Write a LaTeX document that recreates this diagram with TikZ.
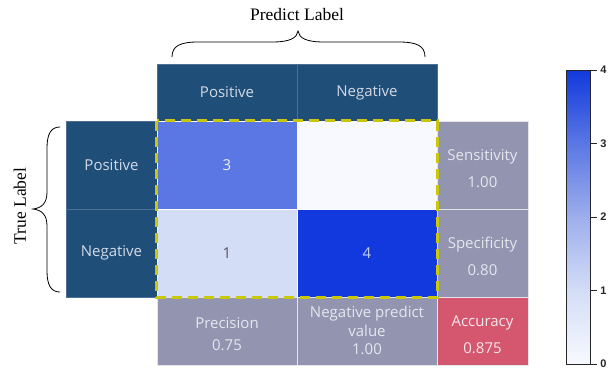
\documentclass[tikz,border=0pt]{standalone}
\usepackage{fontspec}
\setmainfont{Liberation Serif}
\setsansfont{Open Sans}
\newfontfamily\barfont{Liberation Sans}
\definecolor{hdr}{HTML}{1F4E79}
\definecolor{htext}{HTML}{D3DAE6}
\definecolor{gry}{HTML}{9394B0}
\definecolor{gtext}{HTML}{E6E6EF}
\definecolor{accc}{HTML}{D5566F}
\definecolor{atext}{HTML}{F6E8EC}
\definecolor{cz}{HTML}{F7F9FE}
\definecolor{cone}{HTML}{D4DDF6}
\definecolor{ctwo}{HTML}{9DAEEC}
\definecolor{cthree}{HTML}{5A77E4}
\definecolor{cfour}{HTML}{1239DD}
\definecolor{dashy}{HTML}{C8C80A}
\pgfdeclareverticalshading{cmapshade}{100bp}{color(0bp)=(cz); color(25bp)=(cz); color(37.5bp)=(cone); color(50bp)=(ctwo); color(62.5bp)=(cthree); color(75bp)=(cfour); color(100bp)=(cfour)}
\begin{document}
\begin{tikzpicture}[x=1pt,y=-1pt,
  cellbox/.style={rectangle, inner sep=0pt, font=\sffamily\fontsize{15}{18}\selectfont, align=center},
  hdrbox/.style={cellbox, fill=hdr, draw=hdr!80!white, line width=0.6pt, text=htext},
  matbox/.style={cellbox, draw=white, line width=0.6pt, minimum width=140pt, minimum height=88pt},
  grybox/.style={cellbox, fill=gry, draw=white!75!gry, line width=0.8pt},
  lbl/.style={inner sep=0pt, font=\sffamily\fontsize{15}{18}\selectfont, align=center},
  bracestyle/.style={draw=black, line width=0.8pt},
  bigtitle/.style={inner sep=0pt, font=\rmfamily\fontsize{17.5}{20}\selectfont},
  yellowdash/.style={draw=dashy, line width=2.6pt, dash pattern=on 10pt off 6pt}
]
\useasboundingbox (0,0) rectangle (612,373);

% column headers
\node[hdrbox, minimum width=140pt, minimum height=57pt] (hP) at (227,92.5) {Positive};
\node[hdrbox, minimum width=140pt, minimum height=57pt] (hN) at (367,92.5) {Negative};
% row headers
\node[hdrbox, minimum width=91pt, minimum height=88pt] (vP) at (111.5,165) {Positive};
\node[hdrbox, minimum width=91pt, minimum height=88pt] (vN) at (111.5,253) {Negative};

% matrix
\node[matbox, fill=cthree, text=white!88!cthree] (m11) at (227,165) {3};
\node[matbox, fill=cz] (m12) at (367,165) {};
\node[matbox, fill=cone, text=black!60!cone] (m21) at (227,253) {1};
\node[matbox, fill=cfour, text=white!75!cfour] (m22) at (367,253) {4};

% right column
\node[grybox, minimum width=91pt, minimum height=88pt] (sens) at (482.5,165) {};
\node[grybox, minimum width=91pt, minimum height=88pt] (spec) at (482.5,253) {};
\node[cellbox, fill=accc, draw=white!75!gry, line width=0.8pt, minimum width=91pt, minimum height=68pt] (acc) at (482.5,331) {};
% bottom row
\node[grybox, minimum width=140pt, minimum height=68pt] (prec) at (227,331) {};
\node[grybox, minimum width=140pt, minimum height=68pt] (npv) at (367,331) {};

\node[lbl, text=gtext, font=\sffamily\fontsize{15}{27}\selectfont] (sensT) at (482.5,168.5) {Sensitivity\\1.00};
\node[lbl, text=gtext, font=\sffamily\fontsize{15}{27}\selectfont] (specT) at (482.5,256.5) {Specificity\\0.80};
\node[lbl, text=atext, font=\sffamily\fontsize{15}{27}\selectfont] (accT) at (482.5,334.5) {Accuracy\\0.875};
\node[lbl, text=gtext, font=\sffamily\fontsize{15}{22}\selectfont] (precT) at (227,334) {Precision\\0.75};
\node[lbl, text=gtext, font=\sffamily\fontsize{15}{18.5}\selectfont] (npvT) at (367,330.5) {Negative predict\\value\\1.00};

% dashed frame
\draw[yellowdash] (m11.north west) rectangle (m22.south east);

% titles and braces
\node[bigtitle] (ptitle) at (297,15) {Predict Label};
\node[bigtitle, rotate=90] (ttitle) at (20,206) {True Label};

\coordinate (tbL) at (172,57);
\coordinate (tbT) at (298,31);
\coordinate (tbR) at (425,57);
\draw[bracestyle] (tbL) .. controls (172,46) and (180,42) .. (198,42) -- (272,42) .. controls (290,42) and (297,38) .. (tbT) .. controls (299,38) and (306,42) .. (324,42) -- (399,42) .. controls (417,42) and (425,46) .. (tbR);

\coordinate (lbT) at (60,127);
\coordinate (lbM) at (33,209);
\coordinate (lbB) at (60,292);
\draw[bracestyle] (lbT) .. controls (51,127) and (47,134) .. (47,148) -- (47,192) .. controls (47,203) and (42,208) .. (lbM) .. controls (42,210) and (47,215) .. (47,226) -- (47,271) .. controls (47,285) and (51,292) .. (lbB);

% colour bar
\node[draw=black!85, line width=0.7pt, shade, shading=cmapshade, minimum width=24pt, minimum height=294pt, inner sep=0pt] (cbar) at (578,217) {};
\foreach \i in {0,...,4}{
  \coordinate (tk\i) at (590,364-\i*73.5);
  \draw[black!85, line width=0.7pt] (tk\i) -- ++(7,0) node[right, inner sep=3pt, font=\barfont\bfseries\fontsize{11}{13}\selectfont, text=black!85] (tl\i) {\i};
}
\end{tikzpicture}
\end{document}
